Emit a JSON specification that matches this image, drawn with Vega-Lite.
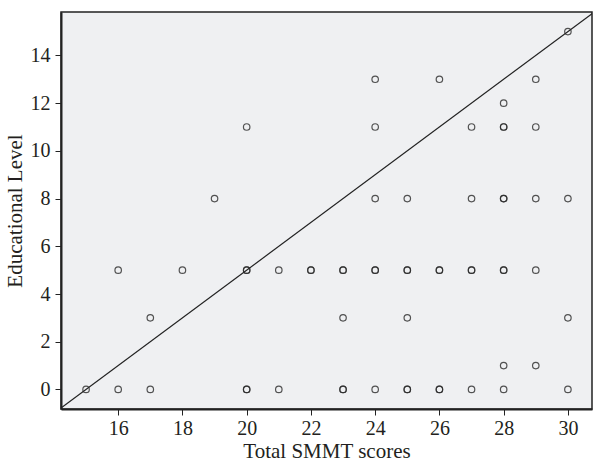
{
  "$schema": "https://vega.github.io/schema/vega-lite/v6.json",
  "width": 531,
  "height": 397,
  "autosize": {"type": "none"},
  "padding": {"left": 61, "top": 12, "right": 2, "bottom": 56},
  "background": "white",
  "config": {
    "view": {"fill": "#eff0f2", "stroke": "#222222", "strokeWidth": 1.5},
    "font": "Liberation Serif",
    "axis": {
      "labelFont": "Liberation Serif",
      "titleFont": "Liberation Serif",
      "labelFontSize": 20,
      "titleFontSize": 21,
      "titleFontWeight": "normal",
      "labelColor": "#231f20",
      "titleColor": "#231f20",
      "domainColor": "#222222",
      "domainWidth": 2,
      "tickColor": "#222222",
      "tickWidth": 1,
      "tickSize": 6,
      "grid": false
    }
  },
  "datasets": {
    "pts": [
      {"s": 15, "e": 0},
      {"s": 16, "e": 0}, {"s": 16, "e": 5},
      {"s": 17, "e": 0}, {"s": 17, "e": 3},
      {"s": 18, "e": 5},
      {"s": 19, "e": 8},
      {"s": 20, "e": 0}, {"s": 20, "e": 0}, {"s": 20, "e": 5}, {"s": 20, "e": 5}, {"s": 20, "e": 11},
      {"s": 21, "e": 0}, {"s": 21, "e": 5},
      {"s": 22, "e": 5}, {"s": 22, "e": 5},
      {"s": 23, "e": 0}, {"s": 23, "e": 0}, {"s": 23, "e": 3}, {"s": 23, "e": 5}, {"s": 23, "e": 5},
      {"s": 24, "e": 0}, {"s": 24, "e": 5}, {"s": 24, "e": 5}, {"s": 24, "e": 8}, {"s": 24, "e": 11}, {"s": 24, "e": 13},
      {"s": 25, "e": 0}, {"s": 25, "e": 0}, {"s": 25, "e": 3}, {"s": 25, "e": 5}, {"s": 25, "e": 5}, {"s": 25, "e": 8},
      {"s": 26, "e": 0}, {"s": 26, "e": 0}, {"s": 26, "e": 5}, {"s": 26, "e": 5}, {"s": 26, "e": 13},
      {"s": 27, "e": 0}, {"s": 27, "e": 5}, {"s": 27, "e": 5}, {"s": 27, "e": 8}, {"s": 27, "e": 11},
      {"s": 28, "e": 0}, {"s": 28, "e": 1}, {"s": 28, "e": 5}, {"s": 28, "e": 5}, {"s": 28, "e": 8}, {"s": 28, "e": 8}, {"s": 28, "e": 11}, {"s": 28, "e": 11}, {"s": 28, "e": 12},
      {"s": 29, "e": 1}, {"s": 29, "e": 5}, {"s": 29, "e": 8}, {"s": 29, "e": 11}, {"s": 29, "e": 13},
      {"s": 30, "e": 0}, {"s": 30, "e": 3}, {"s": 30, "e": 8}, {"s": 30, "e": 15}
    ],
    "ref": [
      {"s": 14.2, "e": -0.8},
      {"s": 30.8, "e": 15.8}
    ]
  },
  "layer": [
    {
      "data": {"name": "ref"},
      "mark": {"type": "line", "color": "#222222", "strokeWidth": 1.2, "clip": true},
      "encoding": {
        "x": {"field": "s", "type": "quantitative"},
        "y": {"field": "e", "type": "quantitative"}
      }
    },
    {
      "data": {"name": "pts"},
      "mark": {"type": "point", "shape": "circle", "filled": false, "size": 42, "stroke": "#2a2a2a", "strokeWidth": 1.2, "opacity": 0.8, "clip": true},
      "encoding": {
        "x": {
          "field": "s", "type": "quantitative",
          "scale": {"domain": [14.22, 30.75], "nice": false, "zero": false},
          "axis": {"values": [16, 18, 20, 22, 24, 26, 28, 30], "title": "Total SMMT scores", "labelPadding": 3, "titlePadding": 2}
        },
        "y": {
          "field": "e", "type": "quantitative",
          "scale": {"domain": [-0.82, 15.82], "nice": false, "zero": false},
          "axis": {"values": [0, 2, 4, 6, 8, 10, 12, 14], "title": "Educational Level", "labelPadding": 5, "titlePadding": 5}
        }
      }
    }
  ]
}
